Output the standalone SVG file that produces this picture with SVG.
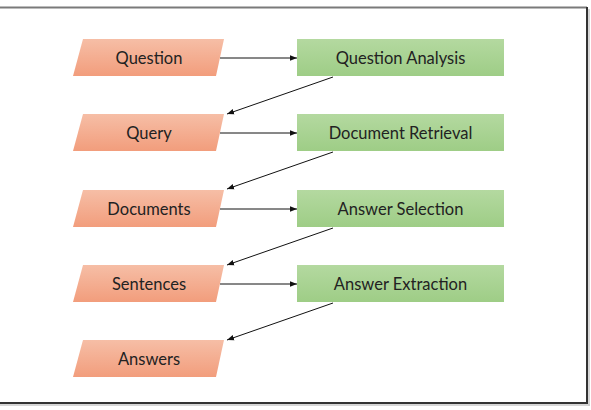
<svg xmlns="http://www.w3.org/2000/svg" width="591" height="410" viewBox="0 0 591 410">
<defs>
<linearGradient id="gOr" x1="0" y1="0" x2="0" y2="1">
<stop offset="0" stop-color="#f6bea6"/>
<stop offset="1" stop-color="#f29d7c"/>
</linearGradient>
<linearGradient id="gGr" x1="0" y1="0" x2="0" y2="1">
<stop offset="0" stop-color="#b4d9a0"/>
<stop offset="1" stop-color="#9ecd86"/>
</linearGradient>
<marker id="ah" viewBox="0 0 10 10" refX="10" refY="5" markerWidth="7" markerHeight="7" markerUnits="userSpaceOnUse" orient="auto">
<path d="M0,1 L10,5 L0,9 z" fill="#111"/>
</marker>
<style>
.io{fill:url(#gOr)}
.pr{fill:url(#gGr)}
.t{font-family:Lato,"Open Sans",sans-serif;font-size:16.5px;fill:#222;text-anchor:middle;dominant-baseline:central}
.c{stroke:#111;stroke-width:1;fill:none;marker-end:url(#ah)}
</style>
</defs>
<rect width="591" height="410" fill="#fff"/>
<g id="frame">
<line x1="0" y1="7.5" x2="587" y2="7.5" stroke="#7a7a7a" stroke-width="2"/>
<line x1="587" y1="7" x2="587" y2="404" stroke="#333" stroke-width="2"/>
<line x1="0" y1="403" x2="588" y2="403" stroke="#333" stroke-width="2"/>
<line x1="589" y1="9" x2="589" y2="406" stroke="#c8c8c8" stroke-width="1.5"/>
<line x1="0" y1="405" x2="590" y2="405" stroke="#c8c8c8" stroke-width="1.5"/>
</g>
<g id="question"><polygon class="io" points="83,39 224,39 216,76 73,76"/><text class="t" x="149" y="57.5">Question</text></g>
<g id="query"><polygon class="io" points="83,114 224,114 216,151 73,151"/><text class="t" x="149" y="132.5">Query</text></g>
<g id="documents"><polygon class="io" points="83,190 224,190 216,227 73,227"/><text class="t" x="149" y="208.5">Documents</text></g>
<g id="sentences"><polygon class="io" points="83,265 224,265 216,302 73,302"/><text class="t" x="149" y="283.5">Sentences</text></g>
<g id="answers"><polygon class="io" points="83,340 224,340 216,377 73,377"/><text class="t" x="149" y="358.5">Answers</text></g>
<g id="question-analysis"><rect class="pr" x="297" y="39" width="207" height="37"/><text class="t" x="400.5" y="57.5">Question Analysis</text></g>
<g id="document-retrieval"><rect class="pr" x="297" y="114" width="207" height="37"/><text class="t" x="400.5" y="132.5">Document Retrieval</text></g>
<g id="answer-selection"><rect class="pr" x="297" y="190" width="207" height="37"/><text class="t" x="400.5" y="208.5">Answer Selection</text></g>
<g id="answer-extraction"><rect class="pr" x="297" y="265" width="207" height="37"/><text class="t" x="400.5" y="283.5">Answer Extraction</text></g>
<g id="connectors">
<line class="c" x1="220" y1="58" x2="297" y2="58"/>
<line class="c" x1="220" y1="133" x2="297" y2="133"/>
<line class="c" x1="220" y1="209" x2="297" y2="209"/>
<line class="c" x1="220" y1="284" x2="297" y2="284"/>
<line class="c" x1="333" y1="77" x2="227" y2="114"/>
<line class="c" x1="333" y1="152" x2="227" y2="189"/>
<line class="c" x1="333" y1="228" x2="227" y2="265"/>
<line class="c" x1="333" y1="303" x2="227" y2="340"/>
</g>
</svg>
